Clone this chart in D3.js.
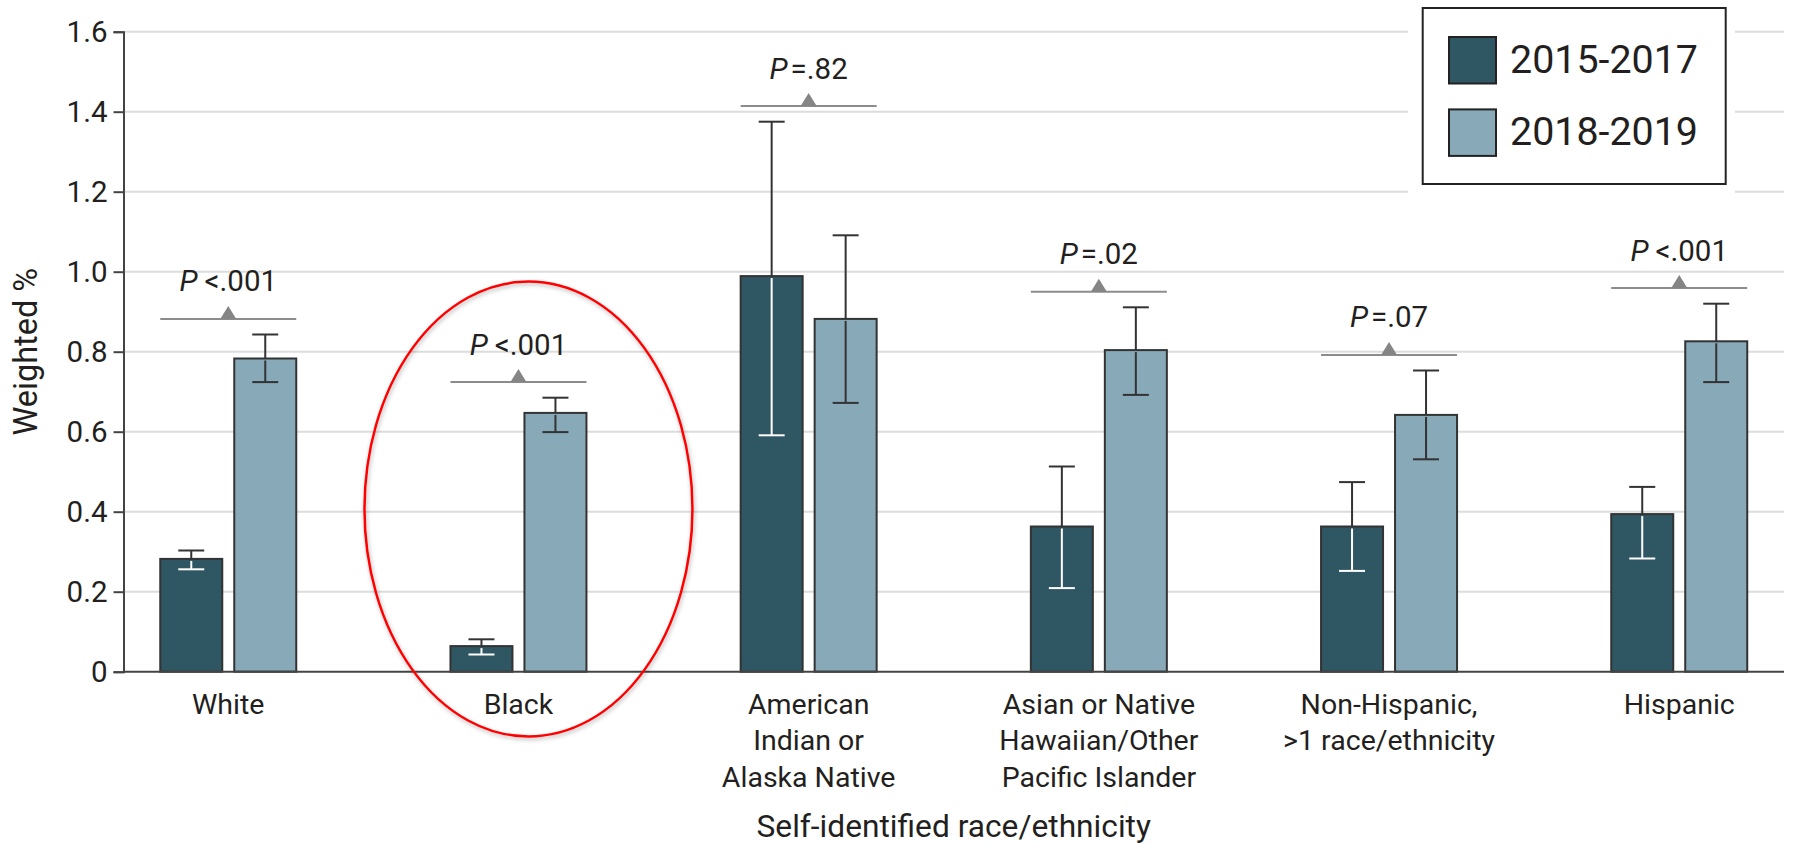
<!DOCTYPE html>
<html>
<head>
<meta charset="utf-8">
<script src="https://cdn.jsdelivr.net/npm/d3@7"></script>
<style>
  html, body { margin: 0; padding: 0; background: #fff; }
  svg { display: block; font-family: Roboto, "Noto Sans", sans-serif; }
</style>
</head>
<body>
<svg id="chart" width="1793" height="846"></svg>
<script>
// Categories and their wrapped label lines
const categories = ["White", "Black", "American Indian or Alaska Native",
  "Asian or Native Hawaiian/Other Pacific Islander", "Non-Hispanic, >1 race/ethnicity", "Hispanic"];
const categoryLines = [["White"], ["Black"], ["American", "Indian or", "Alaska Native"],
  ["Asian or Native", "Hawaiian/Other", "Pacific Islander"], ["Non-Hispanic,", ">1 race/ethnicity"], ["Hispanic"]];

const series = ["2015-2017", "2018-2019"];

// Weighted % with 95% CI, period 2015-2017
const values2015 = [0.282, 0.064, 0.989, 0.363, 0.363, 0.394];
const lower2015  = [0.256, 0.043, 0.591, 0.209, 0.252, 0.283];
const upper2015  = [0.303, 0.081, 1.375, 0.513, 0.474, 0.462];

// Weighted % with 95% CI, period 2018-2019
const values2018 = [0.783, 0.647, 0.882, 0.804, 0.642, 0.826];
const lower2018  = [0.724, 0.599, 0.672, 0.692, 0.531, 0.724];
const upper2018  = [0.843, 0.685, 1.091, 0.911, 0.753, 0.920];

// P values comparing the two periods
const pValues = ["<.001", "<.001", "=.82", "=.02", "=.07", "<.001"];

const yTicks = [0, 0.2, 0.4, 0.6, 0.8, 1.0, 1.2, 1.4, 1.6];

const colors = { "2015-2017": "#2e5663", "2018-2019": "#87a9b8" };
const ink = "#231f20";

const svg = d3.select("#chart");

const plotLeft = 123.5, plotRight = 1784, plotTop = 31.7, plotBottom = 671.7;

const y = d3.scaleLinear().domain([0, 1.6]).range([plotBottom, plotTop]);
const x = d3.scalePoint().domain(categories).range([plotLeft, plotRight]).padding(0.361);
const xs = d3.scaleBand().domain(series).range([-68, 68]).paddingInner(0.162);

const rows = categories.map((c, i) => ({
  cat: c,
  lines: categoryLines[i],
  p: pValues[i],
  bars: [
    { s: series[0], v: values2015[i], lo: lower2015[i], hi: upper2015[i] },
    { s: series[1], v: values2018[i], lo: lower2018[i], hi: upper2018[i] }
  ]
}));

// Gridlines
svg.append("g").selectAll("line")
  .data(yTicks.filter(d => d > 0))
  .join("line")
  .attr("x1", plotLeft).attr("x2", plotRight)
  .attr("y1", d => y(d)).attr("y2", d => y(d))
  .attr("stroke", "#dcdcdc").attr("stroke-width", 2);

// Legend backdrop hides gridlines behind it
svg.append("rect")
  .attr("x", 1408).attr("y", 0).attr("width", 327).attr("height", 196)
  .attr("fill", "#fff");

// Y axis
const yAxis = d3.axisLeft(y).tickValues(yTicks)
  .tickFormat(d => d === 0 ? "0" : d3.format(".1f")(d))
  .tickSize(10).tickPadding(6);
const gy = svg.append("g").attr("transform", `translate(${plotLeft},0)`).call(yAxis);
gy.select(".domain").attr("stroke", "#444").attr("stroke-width", 2);
gy.selectAll(".tick line").attr("stroke", "#444").attr("stroke-width", 2);
gy.selectAll(".tick text").attr("fill", ink)
  .style("font-family", "Roboto, sans-serif").style("font-size", "29.5px");

// Bars
const groups = svg.append("g").selectAll("g")
  .data(rows).join("g")
  .attr("transform", d => `translate(${x(d.cat)},0)`);

groups.selectAll("rect")
  .data(d => d.bars).join("rect")
  .attr("x", d => xs(d.s))
  .attr("width", xs.bandwidth())
  .attr("y", d => y(d.v))
  .attr("height", d => y(0) - y(d.v))
  .attr("fill", d => colors[d.s])
  .attr("stroke", "#333").attr("stroke-width", 2);

// X axis baseline
svg.append("line")
  .attr("x1", plotLeft).attr("x2", plotRight)
  .attr("y1", y(0)).attr("y2", y(0))
  .attr("stroke", "#444").attr("stroke-width", 2);

// Error bars: the portion inside a dark bar is drawn in white
const capHalf = 13;
groups.each(function(d) {
  const g = d3.select(this);
  d.bars.forEach(b => {
    const cx = xs(b.s) + xs.bandwidth() / 2;
    const innerColor = b.s === series[0] ? "#ffffff" : "#333";
    const eb = g.append("g").attr("stroke-width", 2).attr("fill", "none");
    eb.append("line").attr("x1", cx).attr("x2", cx)
      .attr("y1", y(b.hi)).attr("y2", y(b.v)).attr("stroke", "#333");
    eb.append("line").attr("x1", cx - capHalf).attr("x2", cx + capHalf)
      .attr("y1", y(b.hi)).attr("y2", y(b.hi)).attr("stroke", "#333");
    eb.append("line").attr("x1", cx).attr("x2", cx)
      .attr("y1", y(b.v) + 2).attr("y2", y(b.lo)).attr("stroke", innerColor);
    eb.append("line").attr("x1", cx - capHalf).attr("x2", cx + capHalf)
      .attr("y1", y(b.lo)).attr("y2", y(b.lo)).attr("stroke", innerColor);
  });

  // Comparison bracket with P value
  const top = d3.max(d.bars, b => b.hi);
  const yb = y(top) - 15.6;
  g.append("line")
    .attr("x1", -68).attr("x2", 68).attr("y1", yb).attr("y2", yb)
    .attr("stroke", "#8c8c8c").attr("stroke-width", 2);
  g.append("path")
    .attr("d", `M-8,${yb} L0,${yb - 13} L8,${yb} Z`)
    .attr("fill", "#858585");
  const t = g.append("text")
    .attr("x", 0).attr("y", yb - 27.5)
    .attr("text-anchor", "middle")
    .attr("fill", ink)
    .style("font-size", "29.5px");
  t.append("tspan").style("font-style", "italic").text("P");
  t.append("tspan").attr("dx", d.p.startsWith("<") ? 7 : 3).text(d.p);
});

// Category labels
groups.append("text")
  .attr("text-anchor", "middle")
  .attr("fill", ink)
  .style("font-size", "28.5px")
  .selectAll("tspan")
  .data(d => d.lines).join("tspan")
  .attr("x", 0)
  .attr("y", (d, i) => 713.5 + i * 36.6)
  .text(d => d);

// Axis titles
svg.append("text")
  .attr("x", (plotLeft + plotRight) / 2).attr("y", 837)
  .attr("text-anchor", "middle").attr("fill", ink)
  .style("font-size", "31.7px")
  .text("Self-identified race/ethnicity");

svg.append("text")
  .attr("transform", `translate(36.7,${(plotTop + plotBottom) / 2}) rotate(-90)`)
  .attr("text-anchor", "middle").attr("fill", ink)
  .style("font-size", "32.5px")
  .text("Weighted %");

// Legend
const legend = svg.append("g");
legend.append("rect")
  .attr("x", 1422.7).attr("y", 8).attr("width", 303).attr("height", 176)
  .attr("fill", "#fff").attr("stroke", "#222").attr("stroke-width", 2);
const li = legend.selectAll("g.item").data(series).join("g")
  .attr("class", "item")
  .attr("transform", (d, i) => `translate(1449,${37 + i * 72.4})`);
li.append("rect")
  .attr("width", 47).attr("height", 46.5)
  .attr("fill", d => colors[d]).attr("stroke", "#222").attr("stroke-width", 2);
li.append("text")
  .attr("x", 61).attr("y", 35.5)
  .attr("fill", ink)
  .style("font-size", "39.4px")
  .text(d => d);

// Highlight ring around the Black group
const defs = svg.append("defs");
const f = defs.append("filter").attr("id", "ringShadow")
  .attr("x", "-10%").attr("y", "-10%").attr("width", "120%").attr("height", "120%");
f.append("feDropShadow").attr("dx", 1).attr("dy", 2).attr("stdDeviation", 2)
  .attr("flood-color", "#000").attr("flood-opacity", 0.3);
svg.append("ellipse")
  .attr("cx", x("Black") + 10).attr("cy", 509)
  .attr("rx", 164).attr("ry", 227.5)
  .attr("fill", "none").attr("stroke", "#ff0000").attr("stroke-width", 2.5)
  .attr("filter", "url(#ringShadow)");
</script>
</body>
</html>
